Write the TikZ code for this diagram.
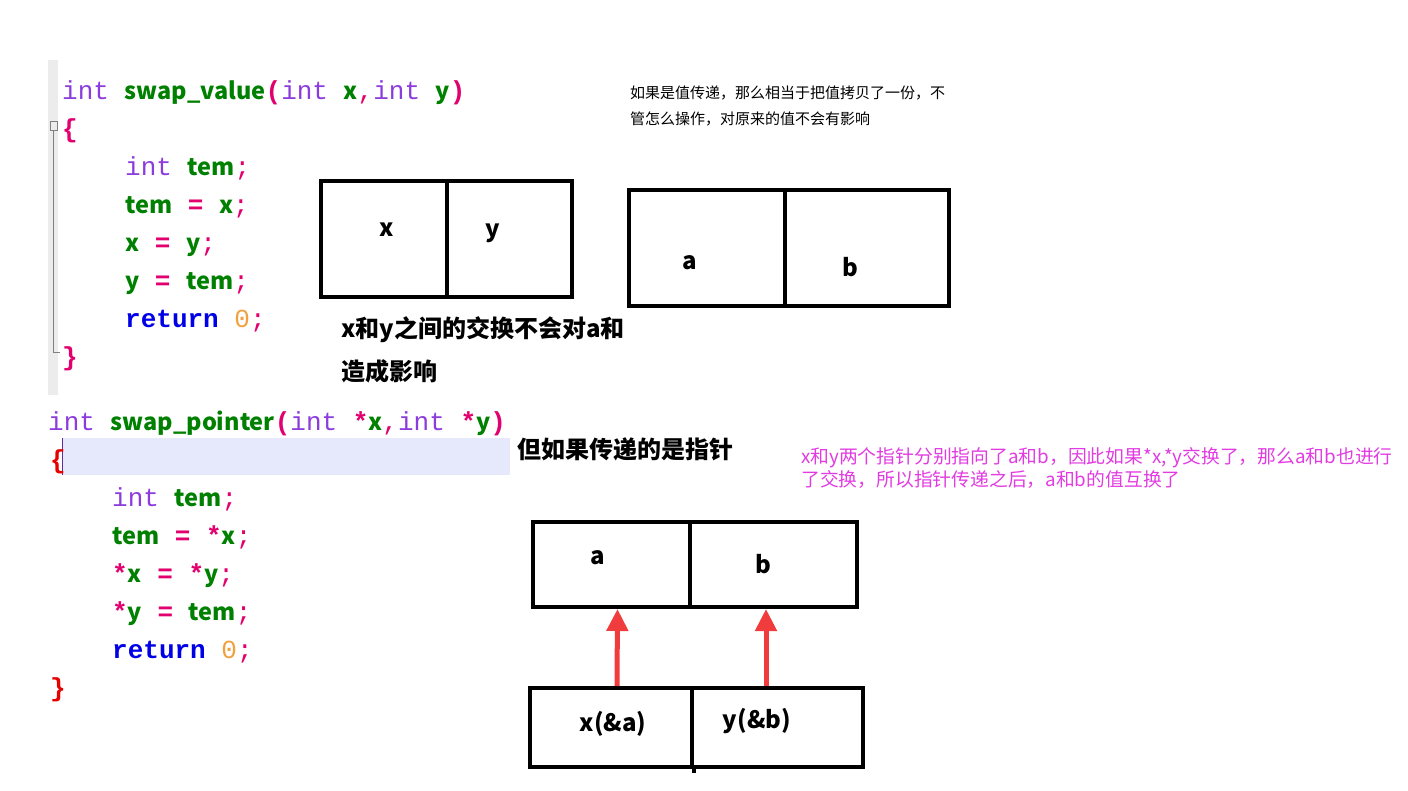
\documentclass[tikz,border=0pt]{standalone}
\usepackage{fontspec}
\usepackage{tikz}
\usetikzlibrary{arrows.meta}
\setmainfont{Liberation Sans}
\newfontfamily\cjk{Noto Sans CJK SC}
\newfontfamily\monof{Liberation Mono}
\definecolor{kwpurple}{RGB}{140, 60, 220}
\definecolor{idgreen}{RGB}{0, 128, 0}
\definecolor{pinkop}{RGB}{225, 0, 110}
\definecolor{bracered}{RGB}{230, 0, 0}
\definecolor{retblue}{RGB}{0, 0, 230}
\definecolor{numorange}{RGB}{240, 160, 60}
\definecolor{hilite}{RGB}{230, 232, 252}
\definecolor{gutter}{RGB}{236, 236, 236}
\definecolor{note}{RGB}{225, 60, 225}
\definecolor{arrowred}{RGB}{240, 60, 60}
\newcommand{\kw}[1]{{\color{kwpurple}#1}}
\newcommand{\idf}[1]{{\cjk\bfseries\fontsize{23.5}{30}\selectfont\color{idgreen}#1}}
\newcommand{\pk}[1]{{\color{pinkop}#1}}
\newcommand{\opb}[1]{{\bfseries\color{pinkop}#1}}
\newcommand{\rt}{{\bfseries\color{retblue}return}}
\newcommand{\zero}{{\color{numorange}0}}

\begin{document}
\begin{tikzpicture}[x=1pt, y=-1pt,
  code/.style={anchor=base west, inner sep=0pt, font=\monof\fontsize{26}{30}\selectfont},
  cell/.style={draw, line width=4pt, inner sep=0pt},
  lbl/.style={inner sep=0pt, font=\cjk\bfseries\fontsize{24}{28}\selectfont},
  big/.style={anchor=west, inner sep=0pt, font=\cjk\bfseries\fontsize{24}{28}\selectfont},
  ptr/.style={-{Triangle[width=21pt, length=22pt]}, line width=5pt, color=arrowred}]
  \useasboundingbox (0, 0) rectangle (1408, 791);

  % editor gutter and fold marker
  \fill [gutter] (48, 60) rectangle (58, 395);
  \draw [gray, line width=1pt] (50, 122) rectangle (57, 131);
  \draw [gray, line width=1pt] (53, 131) -- (53, 353) -- (60, 353);
  \fill [hilite] (62, 438) rectangle (510, 475);
  \draw [kwpurple!70!black, line width=1pt] (62.5, 438) -- (62.5, 475);

  % swap_value
  \node[code] (sig1) at (62, 100) {\kw{int} \idf{swap\_value}\opb{(}\kw{int} \idf{x}\pk{,}\kw{int} \idf{y}\opb{)}};
  \node[code, text=pinkop, font=\monof\bfseries\fontsize{26}{30}\selectfont] (open1) at (62, 138) {\{};
  \foreach \yy/\txt in {176/{\kw{int} \idf{tem}\pk{;}},
      214/{\idf{tem} \opb{=} \idf{x}\pk{;}},
      252/{\idf{x} \opb{=} \idf{y}\pk{;}},
      290/{\idf{y} \opb{=} \idf{tem}\pk{;}},
      328/{\rt{} \zero\pk{;}}}
    \node[code] (v\yy) at (125, \yy) {\txt};
  \node[code, text=pinkop, font=\monof\bfseries\fontsize{26}{30}\selectfont] (close1) at (62, 366) {\}};

  % swap_pointer
  \node[code] (sig2) at (48, 430) {\kw{int} \idf{swap\_pointer}\opb{(}\kw{int} \opb{*}\idf{x}\pk{,}\kw{int} \opb{*}\idf{y}\opb{)}};
  \node[code, text=bracered, font=\monof\bfseries\fontsize{26}{30}\selectfont] (open2) at (50, 468) {\{};
  \foreach \yy/\txt in {506/{\kw{int} \idf{tem}\pk{;}},
      544/{\idf{tem} \opb{=} \opb{*}\idf{x}\pk{;}},
      582/{\opb{*}\idf{x} \opb{=} \opb{*}\idf{y}\pk{;}},
      620/{\opb{*}\idf{y} \opb{=} \idf{tem}\pk{;}},
      658/{\rt{} \zero\pk{;}}}
    \node[code] (p\yy) at (112, \yy) {\txt};
  \node[code, text=bracered, font=\monof\bfseries\fontsize{26}{30}\selectfont] (close2) at (50, 696) {\}};

  % x, y copies
  \node[cell, minimum width=126pt, minimum height=116pt] (xcell) at (384, 239) {};
  \node[cell, minimum width=125pt, minimum height=116pt] (ycell) at (509.5, 239) {};
  \node[lbl] (xl) at (387, 230) {x};
  \node[lbl] (yl) at (493, 233) {y};

  % a, b originals
  \node[cell, minimum width=156pt, minimum height=116pt] (acell) at (707, 248) {};
  \node[cell, minimum width=164pt, minimum height=116pt] (bcell) at (867, 248) {};
  \node[lbl] (al) at (690, 263) {a};
  \node[lbl] (bl) at (850, 267) {b};

  \node[big] (noeffect1) at (341, 330) {x和y之间的交换不会对a和};
  \node[big] (noeffect2) at (341, 371) {造成影响};
  \node[anchor=west, inner sep=0pt, align=left, font=\cjk\fontsize{15}{26}\selectfont] (valnote) at (630, 106)
    {如果是值传递，那么相当于把值拷贝了一份，不\\管怎么操作，对原来的值不会有影响};

  % pointers
  \node[big] (butptr) at (517, 449) {但如果传递的是指针};
  \node[anchor=west, inner sep=0pt, align=left, text=note, font=\cjk\fontsize{18.8}{23}\selectfont] (ptrnote) at (801, 468.5)
    {x和y两个指针分别指向了a和b，因此如果*x,*y交换了，那么a和b也进行\\了交换，所以指针传递之后，a和b的值互换了};

  \node[cell, minimum width=157pt, minimum height=85pt] (pa) at (611.5, 564.5) {};
  \node[cell, minimum width=167pt, minimum height=85pt] (pb) at (773.5, 564.5) {};
  \node[lbl] (pal) at (598, 558) {a};
  \node[lbl] (pbl) at (763, 564) {b};

  \node[cell, minimum width=162pt, minimum height=79pt] (px) at (611, 727.5) {};
  \node[cell, minimum width=171pt, minimum height=79pt] (py) at (777.5, 727.5) {};
  \draw [line width=4pt] (px.south east) -- ++(0, 4);
  \node[lbl] (pxl) at (613, 724) {x(\&a)};
  \node[lbl] (pyl) at (757, 721) {y(\&b)};

  \draw [ptr] ([xshift=6pt]px.north) -- ([xshift=6pt]pa.south);
  \draw [ptr] ([xshift=-11.5pt]py.north) -- ([xshift=-7.5pt]pb.south);
\end{tikzpicture}
\end{document}
